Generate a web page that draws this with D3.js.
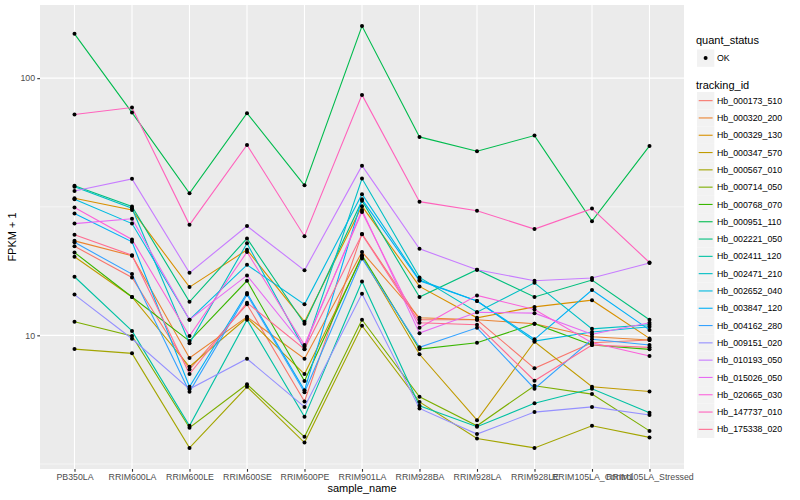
<!DOCTYPE html>
<html>
<head>
<meta charset="utf-8">
<script src="https://cdn.jsdelivr.net/npm/d3@7"></script>
<style>
  body { margin: 0; background: #fff; }
  svg text { font-family: "Liberation Sans", Arial, sans-serif; }
</style>
</head>
<body>
<svg id="chart" width="800" height="500"></svg>
<script>
// samples on the x axis
var samples = ["PB350LA", "RRIM600LA", "RRIM600LE", "RRIM600SE", "RRIM600PE", "RRIM901LA",
  "RRIM928BA", "RRIM928LA", "RRIM928LE", "RRIM105LA_Control", "RRIM105LA_Stressed"];

var trackingIds = ["Hb_000173_510", "Hb_000320_200", "Hb_000329_130", "Hb_000347_570", "Hb_000567_010",
  "Hb_000714_050", "Hb_000768_070", "Hb_000951_110", "Hb_002221_050", "Hb_002411_120",
  "Hb_002471_210", "Hb_002652_040", "Hb_003847_120", "Hb_004162_280", "Hb_009151_020",
  "Hb_010193_050", "Hb_015026_050", "Hb_020665_030", "Hb_147737_010", "Hb_175338_020"];

// FPKM + 1 per sample, one array per gene
var hb000173_510 = [22.2, 16.8, 7.37, 13.2, 5.53, 24.8, 11.5, 11.5, 7.44, 9.36, 9.59];
var hb000320_200 = [23.3, 20.4, 8.16, 11.8, 8.11, 21.1, 11.7, 11.5, 11.1, 9.87, 9.59];
var hb000329_130 = [34.1, 30.7, 15.4, 21.5, 11.3, 31.8, 15.5, 11.7, 12.9, 13.7, 9.73];
var hb000347_570 = [20.2, 14.1, 7.55, 11.7, 7.07, 20.2, 8.44, 4.68, 9.44, 6.31, 6.05];
var hb000567_010 = [8.84, 8.51, 3.65, 6.31, 3.83, 10.9, 5.51, 3.97, 3.65, 4.45, 4.01];
var hb000714_050 = [11.3, 9.94, 4.37, 6.45, 4.03, 11.5, 5.77, 4.45, 6.37, 5.91, 4.25];
var hb000768_070 = [21.0, 14.1, 9.50, 16.3, 6.64, 20.5, 8.84, 9.36, 11.1, 9.17, 8.82];
var hb000951_110 = [148.7, 73.5, 35.7, 73.1, 38.3, 159.4, 59.1, 52.0, 59.8, 27.8, 54.5];
var hb002221_050 = [38.2, 31.7, 13.5, 23.8, 11.1, 33.4, 14.1, 18.0, 14.1, 16.4, 11.5];
var hb002411_120 = [16.9, 10.4, 4.45, 11.5, 4.82, 16.2, 5.32, 4.41, 5.44, 6.20, 5.00];
var hb002471_210 = [37.8, 31.2, 9.31, 22.8, 8.82, 40.7, 16.8, 12.3, 16.0, 10.6, 11.0];
var hb002652_040 = [33.8, 27.2, 11.5, 18.8, 13.2, 35.4, 16.4, 13.6, 9.50, 10.3, 10.8];
var hb003847_120 = [29.8, 23.1, 6.31, 14.6, 6.11, 33.8, 16.3, 13.6, 9.65, 15.0, 10.5];
var hb004162_280 = [23.0, 17.3, 6.03, 14.4, 6.01, 19.9, 8.98, 10.7, 6.20, 9.65, 9.17];
var hb009151_020 = [14.4, 9.70, 6.18, 8.11, 5.27, 14.5, 5.20, 4.13, 5.03, 5.27, 4.90];
var hb010193_050 = [36.4, 40.6, 17.5, 26.6, 17.9, 45.7, 21.7, 18.0, 16.3, 16.7, 19.1];
var hb015026_050 = [27.2, 28.4, 11.5, 17.1, 9.03, 30.7, 10.2, 12.3, 12.2, 10.1, 11.2];
var hb020665_030 = [31.4, 23.6, 9.94, 21.1, 9.17, 30.2, 10.7, 14.3, 12.6, 9.36, 8.31];
var hb147737_010 = [72.2, 76.9, 26.9, 55.0, 24.3, 86.1, 33.1, 30.5, 25.9, 31.1, 19.2];
var hb175338_020 = [24.6, 20.5, 7.07, 13.4, 8.84, 24.7, 11.2, 11.0, 6.66, 9.17, 8.98];

var yBreaks = [10, 100];
var yMinorBreaks = [3.16, 31.6];

var seriesValues = [hb000173_510, hb000320_200, hb000329_130, hb000347_570, hb000567_010,
  hb000714_050, hb000768_070, hb000951_110, hb002221_050, hb002411_120,
  hb002471_210, hb002652_040, hb003847_120, hb004162_280, hb009151_020,
  hb010193_050, hb015026_050, hb020665_030, hb147737_010, hb175338_020];

// ggplot hue palette for 20 groups
var palette = ["#F8766D", "#EA8331", "#D89000", "#C09B00", "#A3A500", "#7CAE00", "#39B600",
  "#00BB4E", "#00BF7D", "#00C1A3", "#00BFC4", "#00BAE0", "#00B0F6", "#35A2FF", "#9590FF",
  "#C77CFF", "#E76BF3", "#FA62DB", "#FF62BC", "#FF6C91"];

var series = trackingIds.map(function (id, i) {
  return { id: id, values: seriesValues[i].map(function (v, j) { return { s: samples[j], v: v }; }) };
});

var panel = { left: 40, right: 684, top: 5, bottom: 469 };
var svg = d3.select("#chart");

// log scale with ggplot-like 5% expansion
var all = [];
seriesValues.forEach(function (a) { all = all.concat(a); });
var lo = Math.log10(d3.min(all)), hi = Math.log10(d3.max(all));
var pad = (hi - lo) * 0.05;
var y = d3.scaleLog().domain([Math.pow(10, lo - pad), Math.pow(10, hi + pad)])
  .range([panel.bottom, panel.top]);
var x = d3.scalePoint().domain(samples).range([panel.left, panel.right]).padding(0.6);

// panel background + grid
svg.append("rect").attr("x", panel.left).attr("y", panel.top)
  .attr("width", panel.right - panel.left).attr("height", panel.bottom - panel.top)
  .attr("fill", "#EBEBEB");
svg.append("g").selectAll("line").data(yMinorBreaks).enter().append("line")
  .attr("x1", panel.left).attr("x2", panel.right)
  .attr("y1", function (d) { return y(d); }).attr("y2", function (d) { return y(d); })
  .attr("stroke", "#fff").attr("stroke-width", 0.55);
svg.append("g").selectAll("line").data(yBreaks).enter().append("line")
  .attr("x1", panel.left).attr("x2", panel.right)
  .attr("y1", function (d) { return y(d); }).attr("y2", function (d) { return y(d); })
  .attr("stroke", "#fff").attr("stroke-width", 1.1);
svg.append("g").selectAll("line").data(samples).enter().append("line")
  .attr("y1", panel.top).attr("y2", panel.bottom)
  .attr("x1", function (d) { return x(d); }).attr("x2", function (d) { return x(d); })
  .attr("stroke", "#fff").attr("stroke-width", 1.1);

// lines
var line = d3.line().x(function (d) { return x(d.s); }).y(function (d) { return y(d.v); });
svg.append("g").selectAll("path").data(series).enter().append("path")
  .attr("d", function (d) { return line(d.values); })
  .attr("fill", "none")
  .attr("stroke", function (d, i) { return palette[i]; })
  .attr("stroke-width", 1.1);

// points
svg.append("g").selectAll("g").data(series).enter().append("g")
  .selectAll("circle").data(function (d) { return d.values; }).enter().append("circle")
  .attr("cx", function (d) { return x(d.s); })
  .attr("cy", function (d) { return y(d.v); })
  .attr("r", 2).attr("fill", "#000");

// axes
var yAxis = svg.append("g").attr("transform", "translate(" + panel.left + ",0)")
  .call(d3.axisLeft(y).tickValues(yBreaks).tickFormat(d3.format("d")).tickSize(2.75).tickPadding(2.2));
var xAxis = svg.append("g").attr("transform", "translate(0," + panel.bottom + ")")
  .call(d3.axisBottom(x).tickSize(2.75).tickPadding(2.2));
[xAxis, yAxis].forEach(function (g) {
  g.select(".domain").remove();
  g.selectAll(".tick line").attr("stroke", "#333333").attr("stroke-width", 1.1);
  g.selectAll(".tick text").attr("fill", "#4D4D4D").attr("font-size", "8.8px")
    .attr("font-family", "Liberation Sans, Arial, sans-serif");
});

svg.append("text").attr("x", (panel.left + panel.right) / 2).attr("y", 492)
  .attr("text-anchor", "middle").attr("font-size", "11px").attr("fill", "#000").text("sample_name");
svg.append("text").attr("transform", "translate(16," + ((panel.top + panel.bottom) / 2) + ") rotate(-90)")
  .attr("text-anchor", "middle").attr("font-size", "11px").attr("fill", "#000").text("FPKM + 1");

// legends
var lg = svg.append("g");
lg.append("text").attr("x", 696).attr("y", 44).attr("font-size", "11px").text("quant_status");
lg.append("rect").attr("x", 697).attr("y", 49.5).attr("width", 17.3).attr("height", 17.3).attr("fill", "#F2F2F2");
lg.append("circle").attr("cx", 705.6).attr("cy", 58.1).attr("r", 2).attr("fill", "#000");
lg.append("text").attr("x", 717).attr("y", 61.2).attr("font-size", "8.8px").text("OK");

lg.append("text").attr("x", 696).attr("y", 89).attr("font-size", "11px").text("tracking_id");
var keys = lg.selectAll("g.key").data(trackingIds).enter().append("g").attr("class", "key")
  .attr("transform", function (d, i) { return "translate(697," + (92 + i * 17.3) + ")"; });
keys.append("rect").attr("width", 17.3).attr("height", 17.3).attr("fill", "#F2F2F2");
keys.append("line").attr("x1", 1.7).attr("x2", 15.6).attr("y1", 8.65).attr("y2", 8.65)
  .attr("stroke", function (d, i) { return palette[i]; }).attr("stroke-width", 1.1);
keys.append("text").attr("x", 20).attr("y", 11.8).attr("font-size", "8.8px").text(function (d) { return d; });
</script>
</body>
</html>
